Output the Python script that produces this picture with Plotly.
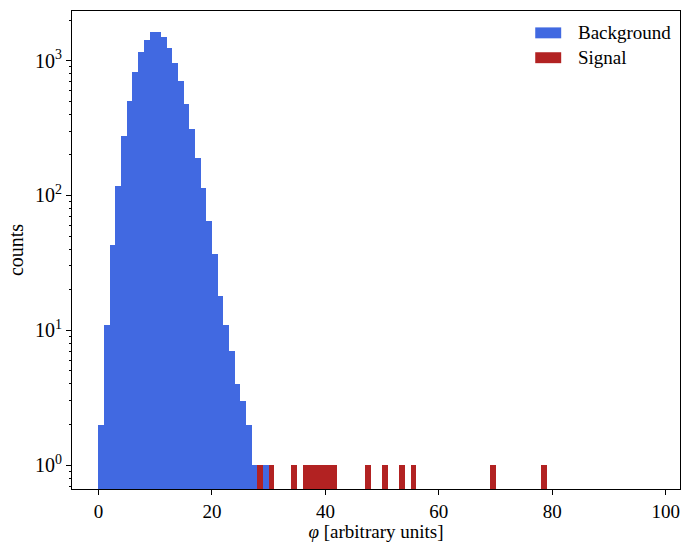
import plotly.graph_objects as go

# ---- data ----
bin_width = 1.0
bg_bin_left = [0, 1, 2, 3, 4, 5, 6, 7, 8, 9, 10, 11, 12, 13, 14,
               15, 16, 17, 18, 19, 20, 21, 22, 23, 24, 25, 26, 27, 28, 29]
bg_counts = [2, 11, 43, 118, 277, 506, 826, 1159, 1430, 1625, 1642, 1487, 1238, 960, 703,
             473, 310, 191, 114, 65, 37, 18, 11, 7, 4, 3, 2, 1, 0, 1]

sig_bin_left = [28, 30, 34, 36, 37, 38, 39, 40, 41, 47, 50, 53, 55, 69, 78]
sig_counts = [1, 1, 1, 1, 1, 1, 1, 1, 1, 1, 1, 1, 1, 1, 1]

x_tick_vals = [0, 20, 40, 60, 80, 100]
y_tick_vals = [1, 10, 100, 1000]
y_tick_text = ["10<sup>0</sup>", "10<sup>1</sup>", "10<sup>2</sup>", "10<sup>3</sup>"]
y_minor_vals = [0.7, 0.8, 0.9,
                2, 3, 4, 5, 6, 7, 8, 9,
                20, 30, 40, 50, 60, 70, 80, 90,
                200, 300, 400, 500, 600, 700, 800, 900, 2000]

series_names = ["Background", "Signal"]
series_colors = ["#4169E1", "#B22222"]

FONT = "Liberation Serif, Times New Roman, serif"

def nonzero(lefts, counts):
    xs, ys = [], []
    for l, c in zip(lefts, counts):
        if c > 0:
            xs.append(l + bin_width / 2)
            ys.append(c)
    return xs, ys

fig = go.Figure()
bx, by = nonzero(bg_bin_left, bg_counts)
fig.add_trace(go.Bar(x=bx, y=by, width=bin_width, name=series_names[0],
                     marker=dict(color=series_colors[0], line=dict(width=0)),
                     showlegend=False))
sx, sy = nonzero(sig_bin_left, sig_counts)
fig.add_trace(go.Bar(x=sx, y=sy, width=bin_width, name=series_names[1],
                     marker=dict(color=series_colors[1], line=dict(width=0)),
                     showlegend=False))

W, H = 682, 542
L, R, T, B = 72, 1, 11, 50
pw, ph = W - L - R, H - T - B

def px2paper(x, y):
    return (x - L) / pw, (H - B - y) / ph

# legend drawn manually (matplotlib-style frameless legend)
legend_rows = [(27.5, 38.5), (52.5, 63.5)]
for (y0, y1), name, col in zip(legend_rows, series_names, series_colors):
    xa, ya = px2paper(536, y1)
    xb, yb = px2paper(562, y0)
    fig.add_shape(type="rect", xref="paper", yref="paper", x0=xa, x1=xb, y0=ya, y1=yb,
                  fillcolor=col, line=dict(width=0))
    tx, ty = px2paper(577, (y0 + y1) / 2)
    fig.add_annotation(xref="paper", yref="paper", x=tx, y=ty, text=name, showarrow=False,
                       xanchor="left", yanchor="middle",
                       font=dict(family=FONT, size=19, color="#000000"))

fig.update_layout(
    width=W, height=H,
    margin=dict(l=L, r=R, t=T, b=B),
    paper_bgcolor="white", plot_bgcolor="white",
    barmode="overlay", bargap=0,
    font=dict(family=FONT, size=19, color="#000000"),
    showlegend=False,
)
fig.update_xaxes(
    range=[-4.66, 102.5], tickvals=x_tick_vals,
    showgrid=False, zeroline=False,
    showline=True, mirror=True, linecolor="#000000", linewidth=1,
    ticks="outside", ticklen=5, tickwidth=1, tickcolor="#000000",
    tickfont=dict(family=FONT, size=19),
    title=dict(text="<i>φ</i> [arbitrary units]", font=dict(family=FONT, size=19), standoff=6),
)
fig.update_yaxes(
    type="log", range=[-0.177, 3.368],
    tickvals=y_tick_vals, ticktext=y_tick_text,
    showgrid=False, zeroline=False,
    showline=True, mirror=True, linecolor="#000000", linewidth=1,
    ticks="outside", ticklen=5, tickwidth=1, tickcolor="#000000",
    minor=dict(tickvals=y_minor_vals, ticks="outside", ticklen=2.5, tickwidth=0.8,
               tickcolor="#000000", showgrid=False),
    tickfont=dict(family=FONT, size=20),
    title=dict(text="counts", font=dict(family=FONT, size=20), standoff=6),
)

fig.write_html("out.html",
               config={"displayModeBar": False},
               post_script="document.body.style.margin='0';document.body.style.overflow='hidden';")
